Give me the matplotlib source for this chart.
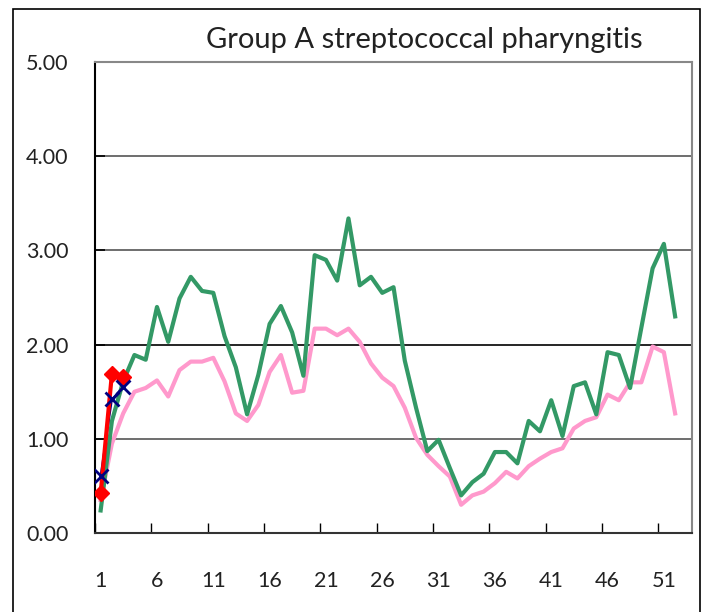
import matplotlib
matplotlib.use('Agg')
import matplotlib.pyplot as plt
from matplotlib.patches import Rectangle

plt.rcParams.update({'font.family': ['Lato', 'DejaVu Sans']})

weeks = list(range(1, 53))
# green line (previous season)
green = [0.24, 1.19, 1.61, 1.89, 1.84, 2.40, 2.03, 2.49, 2.72, 2.57,
         2.55, 2.09, 1.76, 1.26, 1.68, 2.22, 2.41, 2.13, 1.67, 2.95,
         2.90, 2.68, 3.34, 2.63, 2.72, 2.55, 2.61, 1.83, 1.33, 0.87,
         0.99, 0.69, 0.40, 0.54, 0.63, 0.86, 0.86, 0.74, 1.19, 1.08,
         1.41, 1.03, 1.56, 1.60, 1.26, 1.92, 1.89, 1.54, 2.18, 2.81,
         3.07, 2.30]
# pink line (average)
pink = [0.35, 0.95, 1.27, 1.50, 1.54, 1.62, 1.45, 1.73, 1.82, 1.82,
        1.86, 1.61, 1.27, 1.19, 1.36, 1.71, 1.89, 1.49, 1.51, 2.17,
        2.17, 2.10, 2.17, 2.03, 1.80, 1.65, 1.56, 1.33, 1.01, 0.83,
        0.71, 0.60, 0.30, 0.40, 0.44, 0.53, 0.65, 0.58, 0.71, 0.79,
        0.86, 0.90, 1.11, 1.19, 1.23, 1.47, 1.41, 1.60, 1.60, 1.98,
        1.92, 1.27]
# current season
red_weeks = [1, 2, 3]
red = [0.42, 1.69, 1.66]
blue_weeks = [1, 2, 3]
blue = [0.61, 1.42, 1.55]

xtick_labels = [1, 6, 11, 16, 21, 26, 31, 36, 41, 46, 51]

fig = plt.figure(figsize=(7.22, 6.12), dpi=100)
ax = fig.add_axes([0.1316, 0.129, 0.8269, 0.7696])

# outer frame around the chart
fig.patches.append(Rectangle((13/722, -0.05), (700-13)/722, 1.05 - 9/612,
                             transform=fig.transFigure, fill=False,
                             edgecolor='black', linewidth=1.2))

ax.plot(weeks, green, color='#339966', linewidth=3, zorder=3)
ax.plot(weeks, pink, color='#FF99CC', linewidth=3, zorder=2)
ax.plot(blue_weeks, blue, color='#000080', linewidth=1.5, zorder=4)
ax.plot(red_weeks, red, color='#FF0000', linewidth=3, marker='D',
        markersize=8, zorder=5)
ax.plot(blue_weeks, blue, color='#000080', linestyle='None', marker='x',
        markersize=10, markeredgewidth=2, zorder=6)

ax.set_xlim(0.5, 53.5)
ax.set_ylim(0, 5)
ax.set_yticks([0, 1, 2, 3, 4, 5])
ax.set_yticklabels(['%.2f' % v for v in [0, 1, 2, 3, 4, 5]])
ax.set_xticks(xtick_labels)
ax.set_xticklabels([str(v) for v in xtick_labels])
ax.set_xticks([v - 0.5 for v in xtick_labels], minor=True)

ax.tick_params(axis='y', direction='in', length=7, width=1.2, pad=19,
               labelsize=15.5, colors='black', labelcolor='#222222')
ax.tick_params(axis='x', which='major', length=0, pad=27, labelsize=15.5,
               labelcolor='#222222')
ax.tick_params(axis='x', which='minor', direction='in', length=7, width=1)

for y in [1, 2, 3, 4]:
    ax.axhline(y, color='black' if y == 2 else '#555555', linewidth=1.2,
               zorder=1)

ax.spines['left'].set_color('black')
ax.spines['bottom'].set_color('#333333')
ax.spines['top'].set_color('#888888')
ax.spines['right'].set_color('#888888')
for s in ax.spines.values():
    s.set_linewidth(1.5)

fig.text(0.587, 0.935, 'Group A streptococcal pharyngitis', ha='center',
         va='center', fontsize=21, color='#222222')

plt.savefig('out.png', dpi=100)
